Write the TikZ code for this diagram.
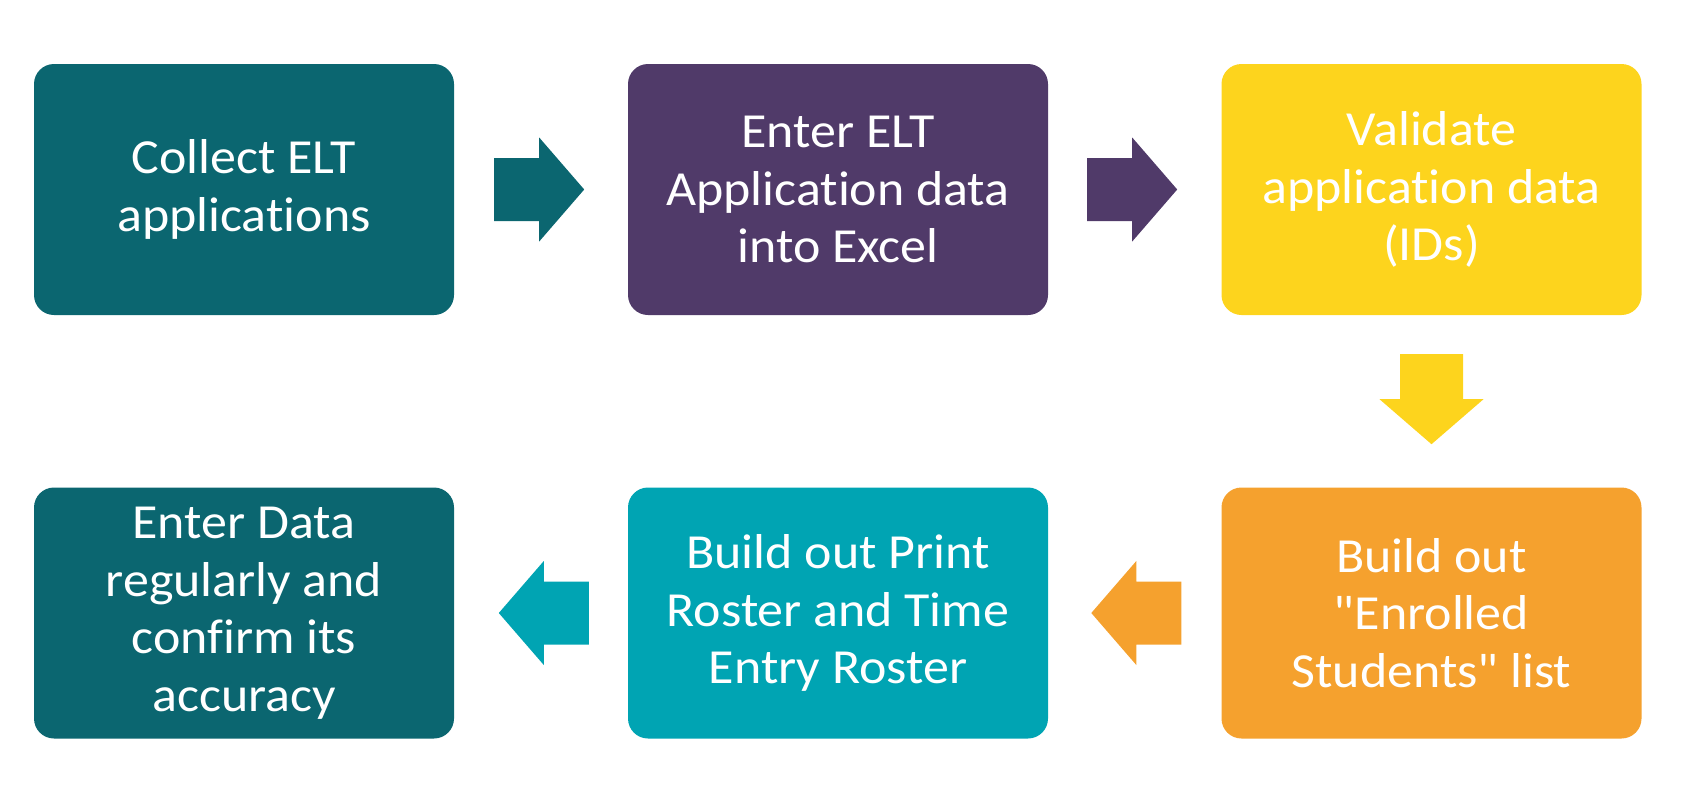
\documentclass[tikz,border=0pt]{standalone}
\usepackage{fontspec}
\setmainfont{Carlito}[Ligatures={TeXOff,NoCommon}, FakeStretch=1.06]
\usetikzlibrary{calc}
\definecolor{cteal}{HTML}{0B6670}
\definecolor{cpurple}{HTML}{503A69}
\definecolor{cyellow}{HTML}{FDD41D}
\definecolor{corange}{HTML}{F5A12E}
\definecolor{clteal}{HTML}{00A4B3}
\tikzset{
  stepbox/.style={rounded corners=20pt, minimum width=420pt, minimum height=251pt,
    inner sep=0pt, align=center, text=white, font=\fontsize{49}{57.5}\selectfont},
  pics/blockarrow/.style={code={
    \fill (0,-31.5) -- (45,-31.5) -- (45,-52) -- (90,0) -- (45,52) -- (45,31.5) -- (0,31.5) -- cycle;}}
}
\begin{document}
\begin{tikzpicture}[x=1pt,y=-1pt]
\useasboundingbox (0,0) rectangle (1696,790);
\node[stepbox, fill=cteal]   (b1) at (244,189.5)  {Collect ELT\\applications};
\node[stepbox, fill=cpurple] (b2) at (838,189.5)  {Enter ELT\\Application data\\into Excel};
\node[stepbox, fill=cyellow] (b3) at (1431.5,189.5) {Validate\\application data\\(IDs)};
\node[stepbox, fill=corange] (b6) at (1431.5,613) {Build out\\"Enrolled\\Students" list};
\node[stepbox, fill=clteal]  (b5) at (838,613)    {Build out Print\\Roster and Time\\Entry Roster};
\node[stepbox, fill=cteal]   (b4) at (244,613)    {Enter Data\\regularly and\\confirm its\\accuracy};
\pic[fill=cteal] at ($(b1.east)+(40,0)$) {blockarrow};
\pic[fill=cpurple] at ($(b2.east)+(39,0)$) {blockarrow};
\pic[fill=cyellow, rotate=-90] at ($(b3.south)+(0,39)$) {blockarrow};
\pic[fill=corange, rotate=180] at ($(b6.west)+(-40,0)$) {blockarrow};
\pic[fill=clteal, rotate=180] at ($(b5.west)+(-39,0)$) {blockarrow};
\end{tikzpicture}
\end{document}
